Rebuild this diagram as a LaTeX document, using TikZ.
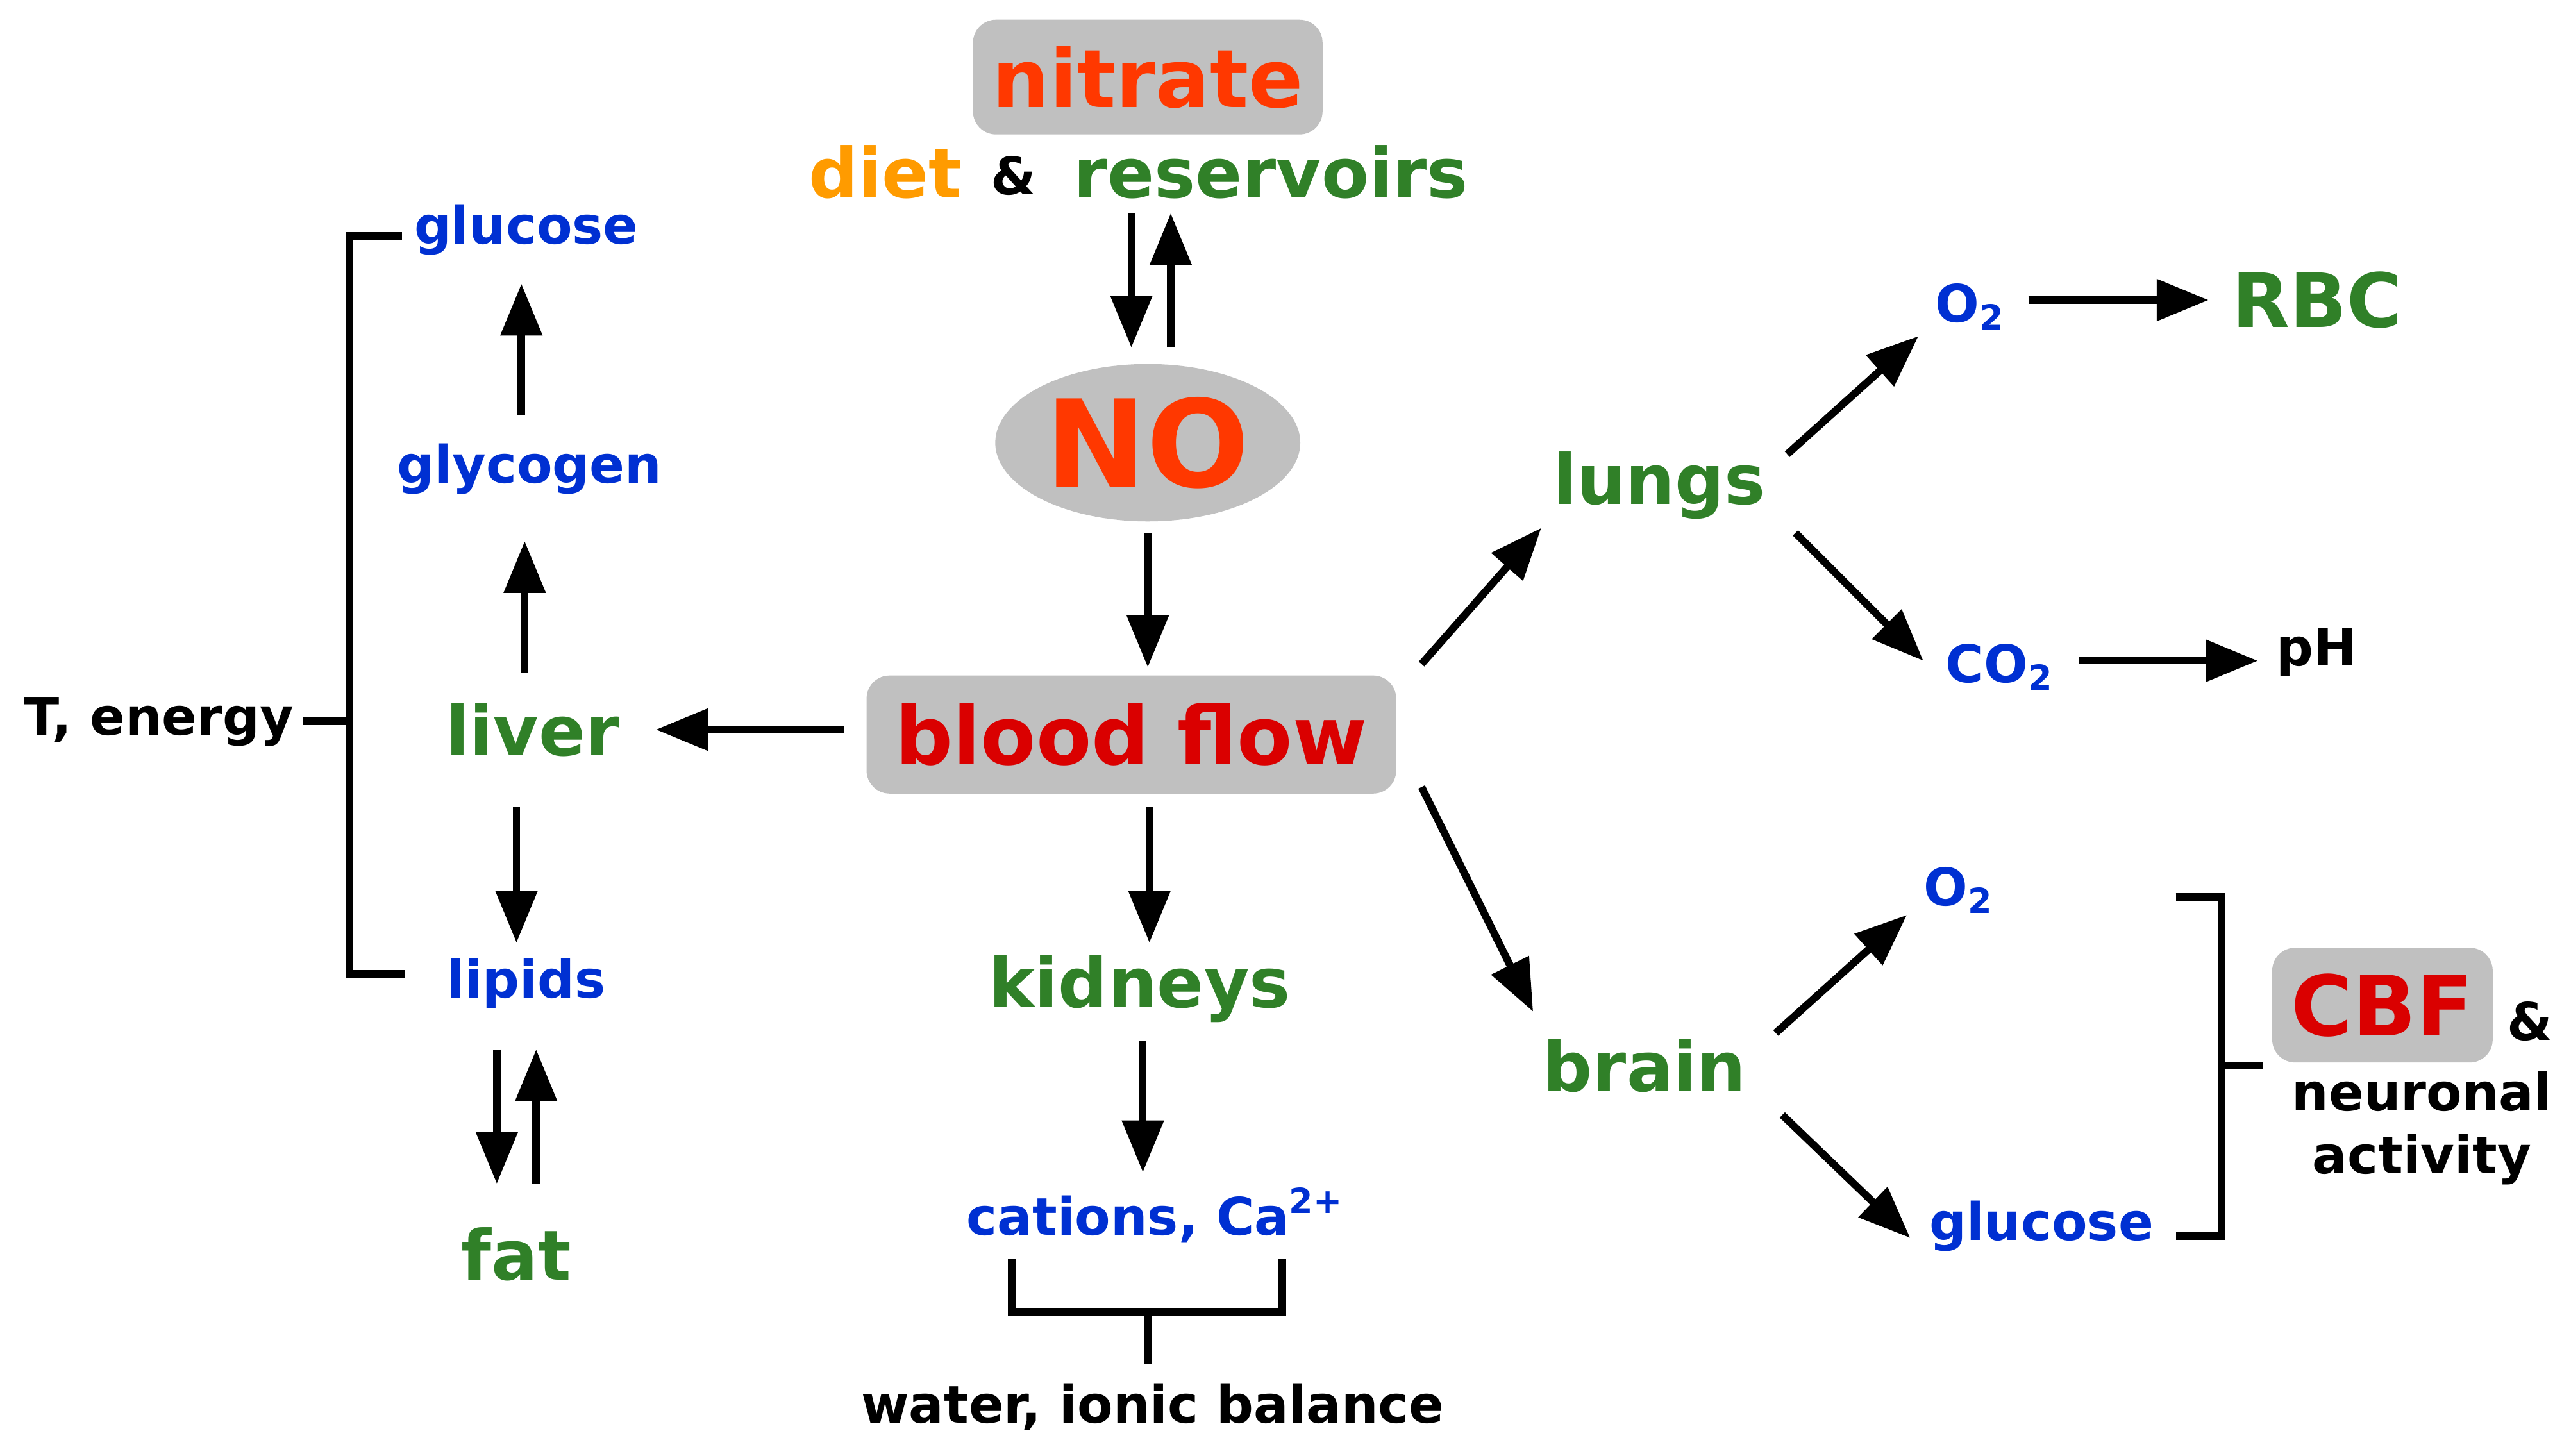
\documentclass[tikz,border=0pt]{standalone}
\usepackage{fontspec}
\setmainfont{DejaVu Sans}
\usetikzlibrary{arrows.meta,shapes.geometric}
\definecolor{organ}{RGB}{48,128,40}
\definecolor{molec}{RGB}{0,48,210}
\definecolor{hot}{RGB}{255,56,0}
\definecolor{flow}{RGB}{218,0,0}
\definecolor{diet}{RGB}{255,155,0}
\definecolor{boxgray}{RGB}{192,192,192}
\begin{document}
\begin{tikzpicture}[x=0.1mm,y=-0.1mm,
		arrow/.style={-{Triangle[length=9pt,width=7pt]},line width=1.3pt},
		bracket/.style={line width=1.3pt},
		organ/.style={font=\bfseries\fontsize{12}{12}\selectfont,text=organ,inner sep=0pt},
		molec/.style={font=\bfseries\fontsize{9}{9}\selectfont,text=molec,inner sep=0pt},
		plain/.style={font=\bfseries\fontsize{9}{11}\selectfont,inner sep=0pt,align=center},
		grayBox/.style={fill=boxgray,rounded corners=4pt}]
		
		\useasboundingbox (0,0) rectangle (1568,888);
		
		% centre column
		\node [grayBox,minimum width=20.7mm,minimum height=7mm,font=\bfseries\fontsize{14}{14}\selectfont,text=hot] (nitrate) at (700,47) {nitrate};
		\node [font=\bfseries\fontsize{12}{12}\selectfont,text=diet,inner sep=0pt] (diet) at (540,105) {diet};
		\node [plain] (amp) at (618,107) {\&};
		\node [organ] (reservoirs) at (775,105) {reservoirs};
		\node [ellipse,fill=boxgray,minimum width=18.6mm,minimum height=9.6mm,font=\bfseries\fontsize{21}{21}\selectfont,text=hot,inner sep=0pt] (no) at (700,270) {NO};
		\node [grayBox,minimum width=32.3mm,minimum height=7.2mm,font=\bfseries\fontsize{14}{14}\selectfont,text=flow] (blood) at (690,448) {blood flow};
		\node [organ] (kidneys) at (695,603) {kidneys};
		\node [molec] (cations) at (705,741) {cations, Ca\textsuperscript{2+}};
		\node [plain] (water) at (703,858) {water, ionic balance};
		
		% left column
		\node [organ] (liver) at (325,445) {liver};
		\node [molec] (glycogen) at (323,286) {glycogen};
		\node [molec] (glucoseL) at (321,140) {glucose};
		\node [molec] (lipids) at (321,600) {lipids};
		\node [organ] (fat) at (315,765) {fat};
		\node [plain] (energy) at (97,440) {T, energy};
		
		% right column
		\node [organ] (lungs) at (1012,296) {lungs};
		\node [organ] (brain) at (1003,650) {brain};
		\node [molec] (o2a) at (1202,187) {O\textsubscript{2}};
		\node [molec] (co2) at (1220,407) {CO\textsubscript{2}};
		\node [organ,font=\bfseries\fontsize{13}{13}\selectfont] (rbc) at (1413,183) {RBC};
		\node [plain] (ph) at (1413,398) {pH};
		\node [molec] (o2b) at (1195,543) {O\textsubscript{2}};
		\node [molec] (glucoseR) at (1245,748) {glucose};
		\node [grayBox,minimum width=12.6mm,minimum height=7mm,font=\bfseries\fontsize{14.5}{14.5}\selectfont,text=flow] (cbf) at (1453,613) {CBF};
		\node [plain] (amp2) at (1543,623) {\&};
		\node [plain] (neuro) at (1477,688) {neuronal\\activity};
		
		% arrow ends
		\foreach \n/\x/\y in {a1/690/130, a2/690/212, b1/714/212, b2/714/130,
			c1/700/325, c2/700/407, d1/515/445, d2/400/445,
			e1/320/410, e2/320/330, f1/318/253, f2/318/173,
			g1/315/492, g2/315/575, h1/303/640, h2/303/722, i1/327/722, i2/327/640,
			j1/701/492, j2/701/575, k1/697/635, k2/697/715,
			l1/867/405, l2/940/322, m1/867/480, m2/935/617,
			n1/1090/277, n2/1170/205, o1/1237/183, o2/1347/183,
			p1/1095/325, p2/1173/403, q1/1268/403, q2/1377/403,
			r1/1083/630, r2/1163/558, s1/1087/680, s2/1165/755}
		{\coordinate (\n) at (\x,\y);}
		
		\foreach \n in {a,b,c,d,e,f,g,h,i,j,k,l,m,n,o,p,q,r,s}
		{\draw [arrow] (\n1) -- (\n2);}
		
		% brackets
		\draw [bracket] (245,144) -| (213,594) -- (247,594);
		\draw [bracket] (213,440) -- (185,440);
		\draw [bracket] (617,768) |- (782,800) -- (782,768);
		\draw [bracket] (700,800) -- (700,832);
		\draw [bracket] (1327,547) -| (1355,754) -- (1327,754);
		\draw [bracket] (1355,650) -- (1380,650);
\end{tikzpicture}
\end{document}
